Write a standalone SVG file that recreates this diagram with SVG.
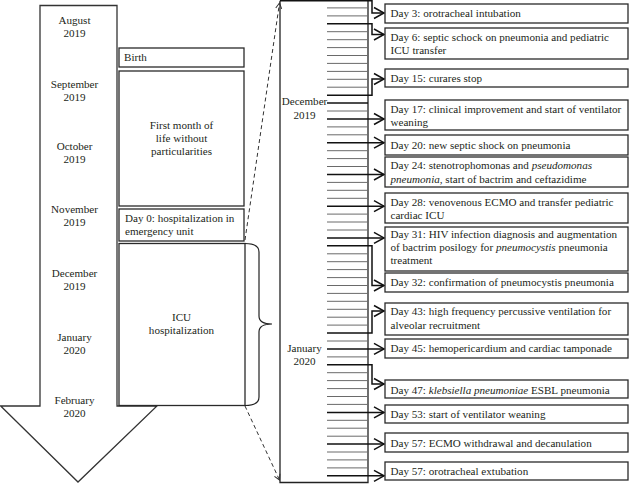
<svg xmlns="http://www.w3.org/2000/svg" width="629" height="484" viewBox="0 0 629 484">
<style>
text{font-family:"Liberation Serif","Times New Roman",serif;font-size:11.1px;fill:#231f20}
.c{text-anchor:middle}
.box{fill:#fff;stroke:#2a2a2a;stroke-width:1.3}
.thin{stroke:#6a6a6a;stroke-width:1;fill:none}
.thick{stroke:#111;stroke-width:1.5;fill:none}
.arr{stroke:#111;stroke-width:1.5;fill:none;marker-end:url(#ah)}
.dash{stroke:#333;stroke-width:1;stroke-dasharray:4 3;fill:none;marker-end:url(#dh)}
.it{font-style:italic}
</style>
<defs>
<marker id="ah" markerUnits="userSpaceOnUse" markerWidth="14" markerHeight="14" refX="11" refY="7" orient="auto">
<path d="M1,1.5 L11,7 L1,12.5" fill="none" stroke="#111" stroke-width="1.5"/>
</marker>
<marker id="dh" markerUnits="userSpaceOnUse" markerWidth="8" markerHeight="8" refX="6" refY="4" orient="auto">
<path d="M0.5,1 L6,4 L0.5,7" fill="none" stroke="#333" stroke-width="1"/>
</marker>
</defs>

<g id="timeline-arrow">
<polygon points="40,5.5 117,5.5 117,406 157,406 78,482 0.7,406 40,406" fill="#fff" stroke="#333" stroke-width="1.3"/>
<text class="c" x="74.5" y="24">August</text>
<text class="c" x="74.5" y="37">2019</text>
<text class="c" x="74.5" y="88">September</text>
<text class="c" x="74.5" y="101">2019</text>
<text class="c" x="74.5" y="150">October</text>
<text class="c" x="74.5" y="163">2019</text>
<text class="c" x="74.5" y="213">November</text>
<text class="c" x="74.5" y="226">2019</text>
<text class="c" x="74.5" y="277">December</text>
<text class="c" x="74.5" y="290">2019</text>
<text class="c" x="74.5" y="341">January</text>
<text class="c" x="74.5" y="354">2020</text>
<text class="c" x="74.5" y="404">February</text>
<text class="c" x="74.5" y="417">2020</text>
</g>

<g id="birth"><rect class="box" x="119" y="48" width="125" height="19"/><text x="124" y="61">Birth</text></g>
<g id="first-month"><rect class="box" x="119" y="71" width="125" height="135"/>
<text class="c" x="181.5" y="129">First month of</text>
<text class="c" x="181.5" y="142">life without</text>
<text class="c" x="181.5" y="155">particularities</text></g>
<g id="day0"><rect class="box" x="119" y="209" width="125" height="32"/>
<text x="125" y="222">Day 0: hospitalization in</text>
<text x="125" y="235">emergency unit</text></g>
<g id="icu"><rect class="box" x="119" y="243.5" width="126" height="162"/>
<text class="c" x="181.5" y="321">ICU</text>
<text class="c" x="181.5" y="334">hospitalization</text></g>

<g id="ruler">
<path d="M280,0.8 V482.5 H368 V0.8" fill="none" stroke="#222" stroke-width="1.3"/>
<path class="thin" d="M327,7.9H368M327,15.9H368M327,31.7H368M327,39.7H368M327,47.6H368M327,55.5H368M327,63.4H368M327,71.4H368M327,79.3H368M327,87.2H368M327,111H368M327,126.9H368M327,134.8H368M327,150.7H368M327,158.6H368M327,166.5H368M327,182.4H368M327,190.3H368M327,198.3H368M327,214.1H368M327,222H368M327,230H368M327,253.8H368M327,261.7H368M327,269.6H368M327,277.6H368M327,285.5H368M327,293.4H368M327,301.3H368M327,309.3H368M327,317.2H368M327,325.1H368M327,341H368M327,356.9H368M327,372.7H368M327,380.6H368M327,388.6H368M327,396.5H368M327,404.4H368M327,420.3H368M327,428.2H368M327,436.2H368M327,452H368M327,459.9H368M327,467.9H368"/>
<path class="thick" d="M327,103.1H368"/>
<text class="c" x="304.5" y="105">December</text>
<text class="c" x="304.5" y="118.5">2019</text>
<text class="c" x="304.5" y="352">January</text>
<text class="c" x="304.5" y="365">2020</text>
</g>

<g id="connectors">
<path class="dash" d="M245,240 L279.5,3"/>
<path class="dash" d="M245,406 L279.5,480"/>
<path d="M245,243.5 Q259,243.5 259,252 V316 Q259,324 272,324 Q259,324 259,332 V397 Q259,405.5 245,405.5" fill="none" stroke="#222" stroke-width="1.2"/>
<path class="arr" d="M280,0.8 H372 V13 H384"/>
<path class="arr" d="M327,23.8 H372 V34.5 H384"/>
<path class="arr" d="M327,95.2 H372 V79 H384"/>
<path class="arr" d="M327,119 H384"/>
<path class="arr" d="M327,142.7 H384"/>
<path class="arr" d="M327,174.5 H384"/>
<path class="arr" d="M327,206.2 H384"/>
<path class="arr" d="M327,237.9 H384"/>
<path class="arr" d="M327,245.8 H372 V285.5 H384"/>
<path class="arr" d="M327,333.1 H372 V311 H384"/>
<path class="arr" d="M327,348.9 H384"/>
<path class="arr" d="M327,364.8 H372 V384 H384"/>
<path class="arr" d="M327,412.4 H384"/>
<path class="arr" d="M327,444.1 H384"/>
<path class="arr" d="M327,475.8 H384"/>
</g>

<g id="e-day3"><rect class="box" x="385" y="4" width="243" height="19"/><text x="390.5" y="17">Day 3: orotracheal intubation</text></g>
<g id="e-day6"><rect class="box" x="385" y="28" width="243" height="31"/><text x="390.5" y="41">Day 6: septic schock on pneumonia and pediatric</text><text x="390.5" y="54">ICU transfer</text></g>
<g id="e-day15"><rect class="box" x="385" y="69" width="243" height="18"/><text x="390.5" y="82">Day 15: curares stop</text></g>
<g id="e-day17"><rect class="box" x="385" y="100" width="243" height="30"/><text x="390.5" y="113">Day 17: clinical improvement and start of ventilator</text><text x="390.5" y="126">weaning</text></g>
<g id="e-day20"><rect class="box" x="385" y="135" width="243" height="20"/><text x="390.5" y="149">Day 20: new septic shock on pneumonia</text></g>
<g id="e-day24"><rect class="box" x="385" y="157" width="243" height="30"/><text x="390.5" y="169">Day 24: stenotrophomonas and <tspan class="it">pseudomonas</tspan></text><text x="390.5" y="182.5"><tspan class="it">pneumonia</tspan>, start of bactrim and ceftazidime</text></g>
<g id="e-day28"><rect class="box" x="385" y="193" width="243" height="30"/><text x="390.5" y="206">Day 28: venovenous ECMO and transfer pediatric</text><text x="390.5" y="219">cardiac ICU</text></g>
<g id="e-day31"><rect class="box" x="385" y="227" width="243" height="44"/><text x="390.5" y="237.5">Day 31: HIV infection diagnosis and augmentation</text><text x="390.5" y="250.5">of bactrim posilogy for <tspan class="it">pneumocystis</tspan> pneumonia</text><text x="390.5" y="263.5">treatment</text></g>
<g id="e-day32"><rect class="box" x="385" y="273" width="243" height="19"/><text x="390.5" y="286">Day 32: confirmation of pneumocystis pneumonia</text></g>
<g id="e-day43"><rect class="box" x="385" y="303" width="243" height="32"/><text x="390.5" y="315">Day 43: high frequency percussive ventilation for</text><text x="390.5" y="328.5">alveolar recruitment</text></g>
<g id="e-day45"><rect class="box" x="385" y="339" width="243" height="19"/><text x="390.5" y="352">Day 45: hemopericardium and cardiac tamponade</text></g>
<g id="e-day47"><rect class="box" x="385" y="380" width="243" height="18"/><text x="390.5" y="393.5">Day 47: <tspan class="it">klebsiella pneumoniae</tspan> ESBL pneumonia</text></g>
<g id="e-day53"><rect class="box" x="385" y="405" width="243" height="18"/><text x="390.5" y="417.5">Day 53: start of ventilator weaning</text></g>
<g id="e-day57a"><rect class="box" x="385" y="433" width="243" height="19"/><text x="390.5" y="446.5">Day 57: ECMO withdrawal and decanulation</text></g>
<g id="e-day57b"><rect class="box" x="385" y="462" width="243" height="18"/><text x="390.5" y="474.5">Day 57: orotracheal extubation</text></g>
</svg>
